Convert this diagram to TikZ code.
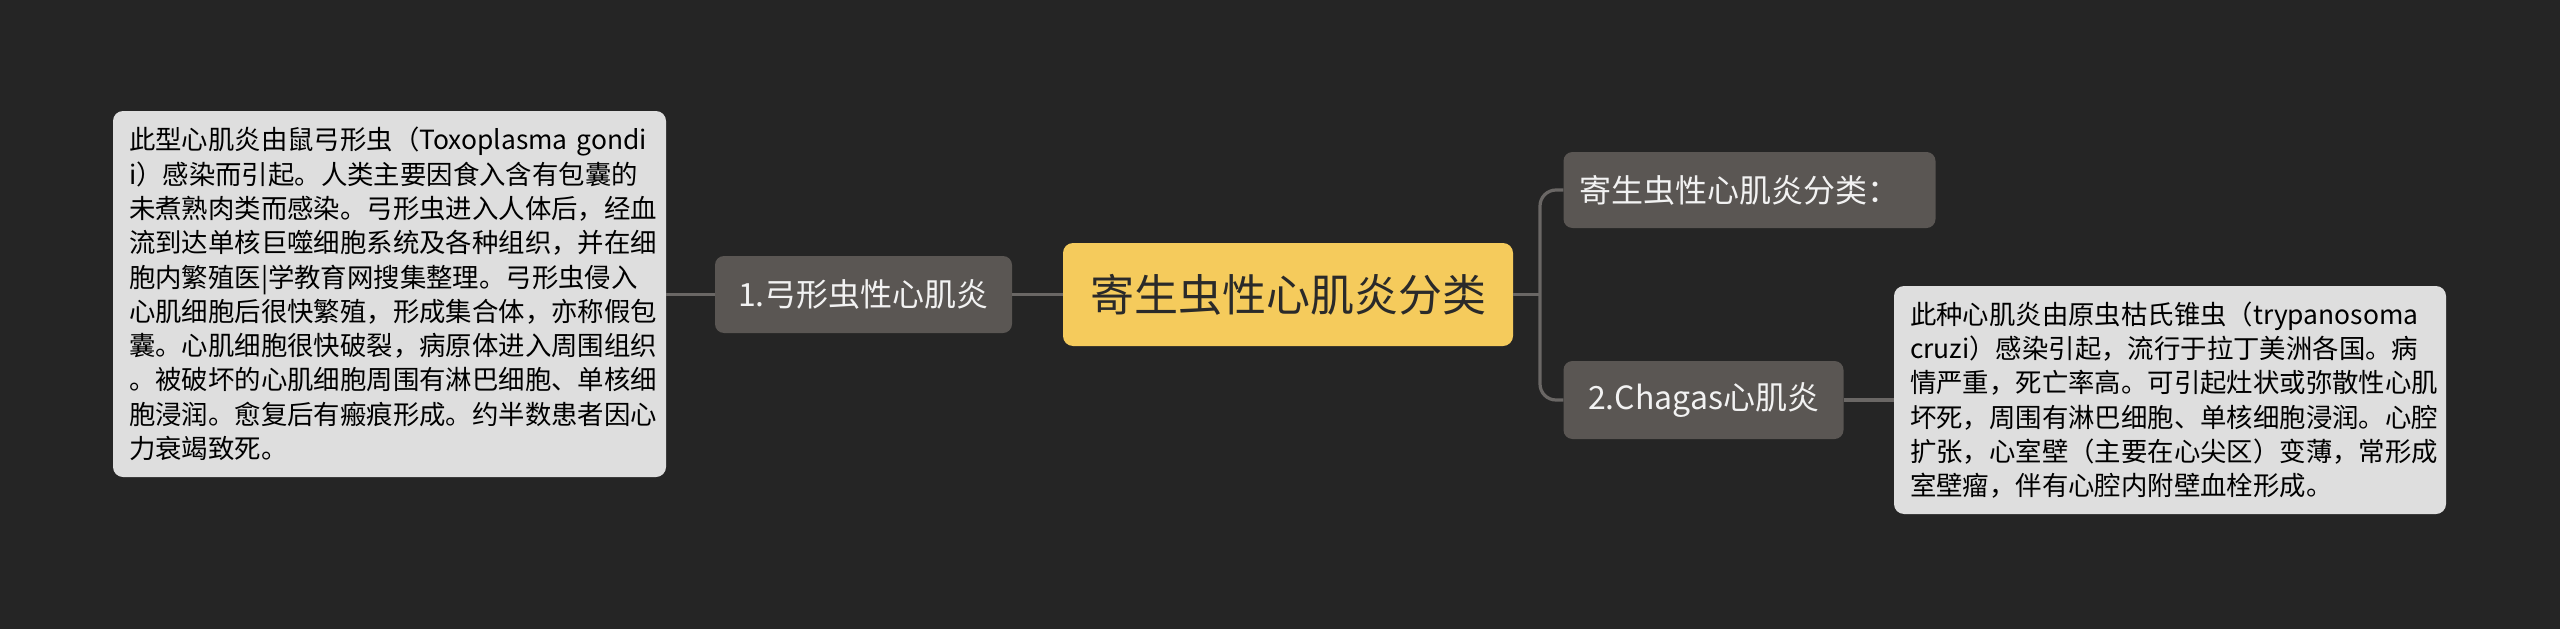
\documentclass[tikz,border=0pt]{standalone}
\usepackage{fontspec}
\setmainfont{Noto Sans CJK SC}
\definecolor{bg}{HTML}{252525}
\definecolor{nodegray}{HTML}{5A5653}
\definecolor{linegray}{HTML}{6A6765}
\definecolor{boxgray}{HTML}{DEDEDE}
\definecolor{rootyellow}{HTML}{F5CB5C}
\definecolor{darktext}{HTML}{2A2A2A}
\definecolor{lighttext}{HTML}{F2F2F2}
\tikzset{
  conn/.style={draw=linegray, line width=3.2pt},
  topic/.style={fill=nodegray, rounded corners=9pt, text=lighttext, inner sep=0pt,
    font=\fontsize{32}{38}\selectfont},
  rootnode/.style={fill=rootyellow, rounded corners=10pt, text=darktext, inner sep=0pt,
    font=\fontsize{44}{52}\selectfont},
  notebox/.style={fill=boxgray, rounded corners=10pt, text=black, inner sep=0pt,
    align=left, font=\fontsize{26.4}{34.3}\selectfont},
}
\begin{document}
\begin{tikzpicture}[x=1pt,y=-1pt]
\fill[bg] (0,0) rectangle (2560,629);
\useasboundingbox (0,0) rectangle (2560,629);

\node[rootnode, minimum width=450pt, minimum height=103pt] (root) at (1288,294.5) {寄生虫性心肌炎分类};
\node[topic, minimum width=297pt, minimum height=77pt] (t1) at (863.5,294.5) {1.弓形虫性心肌炎};
\node[topic, minimum width=372pt, minimum height=76pt, text width=340pt, align=left] (t0) at (1749.5,190) {寄生虫性心肌炎分类：};
\node[topic, minimum width=280pt, minimum height=78pt] (t2) at (1703.5,400) {2.Chagas心肌炎};

\node[notebox, minimum width=553pt, minimum height=366pt, text width=521pt] (n1) at (389.5,294) {此型心肌炎由鼠弓形虫（Toxoplasma gondi\\i）感染而引起。人类主要因食入含有包囊的\\未煮熟肉类而感染。弓形虫进入人体后，经血\\流到达单核巨噬细胞系统及各种组织，并在细\\胞内繁殖医|学教育网搜集整理。弓形虫侵入\\心肌细胞后很快繁殖，形成集合体，亦称假包\\囊。心肌细胞很快破裂，病原体进入周围组织\\。被破坏的心肌细胞周围有淋巴细胞、单核细\\胞浸润。愈复后有瘢痕形成。约半数患者因心\\力衰竭致死。};

\node[notebox, minimum width=552pt, minimum height=228pt, text width=520pt] (n2) at (2170,400) {此种心肌炎由原虫枯氏锥虫（trypanosoma\\cruzi）感染引起，流行于拉丁美洲各国。病\\情严重，死亡率高。可引起灶状或弥散性心肌\\坏死，周围有淋巴细胞、单核细胞浸润。心腔\\扩张，心室壁（主要在心尖区）变薄，常形成\\室壁瘤，伴有心腔内附壁血栓形成。};

\coordinate (br) at (1540,294.5);
\begin{scope}[on background layer/.style={}]
\draw[conn] (root.west) -- (t1.east);
\draw[conn] (t1.west) -- (n1.east |- t1.west);
\draw[conn] (root.east) -- (br);
\draw[conn, rounded corners=16pt] (t0.west) -| (br) |- (t2.west);
\draw[conn] (t2.east) -- (n2.west |- t2.east);
\end{scope}
\end{tikzpicture}
\end{document}
